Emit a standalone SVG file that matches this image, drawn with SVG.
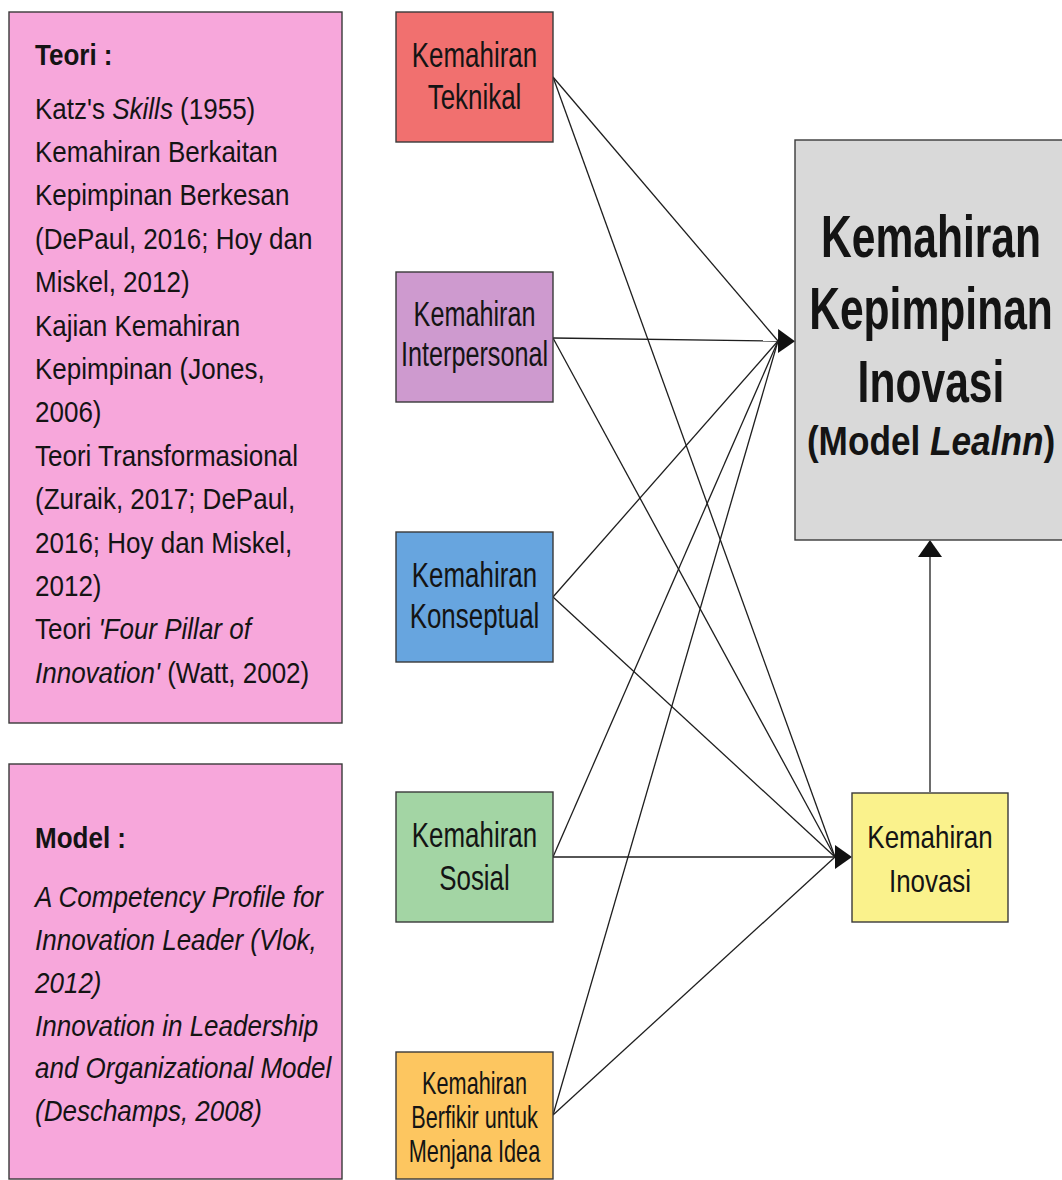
<svg xmlns="http://www.w3.org/2000/svg" width="1062" height="1180" viewBox="0 0 1062 1180">
<defs>
<style>
.box{stroke:#3a3a3a;stroke-width:1.4}
.t{font-family:"Liberation Sans",Arial,sans-serif;fill:#141414}
.lt{font-size:30px}
.b{font-weight:bold}
.i{font-style:italic}
.c{text-anchor:middle}
.ln{stroke:#1e1e1e;stroke-width:1.3;fill:none}
</style>
<marker id="ah" viewBox="0 0 17 24" refX="0" refY="12" markerWidth="17" markerHeight="24" markerUnits="userSpaceOnUse" orient="auto">
<path d="M0,0 L17,12 L0,24 z" fill="#111"/>
</marker>
</defs>
<rect width="1062" height="1180" fill="#ffffff"/>

<g id="teori">
<rect class="box" x="9" y="12" width="333" height="711" fill="#F7A7DB"/>
<g transform="translate(35 0) scale(0.867 1)">
<text class="t lt b" x="0" y="65">Teori :</text>
<text class="t lt" x="0" y="118.6">Katz's <tspan class="i">Skills</tspan> (1955)</text>
<text class="t lt" x="0" y="162">Kemahiran Berkaitan</text>
<text class="t lt" x="0" y="205.4">Kepimpinan Berkesan</text>
<text class="t lt" x="0" y="248.8">(DePaul, 2016; Hoy dan</text>
<text class="t lt" x="0" y="292.2">Miskel, 2012)</text>
<text class="t lt" x="0" y="335.6">Kajian Kemahiran</text>
<text class="t lt" x="0" y="379">Kepimpinan (Jones,</text>
<text class="t lt" x="0" y="422.4">2006)</text>
<text class="t lt" x="0" y="465.8">Teori Transformasional</text>
<text class="t lt" x="0" y="509.2">(Zuraik, 2017; DePaul,</text>
<text class="t lt" x="0" y="552.6">2016; Hoy dan Miskel,</text>
<text class="t lt" x="0" y="596">2012)</text>
<text class="t lt" x="0" y="639.4">Teori <tspan class="i">'Four Pillar of</tspan></text>
<text class="t lt" x="0" y="682.8"><tspan class="i">Innovation'</tspan> (Watt, 2002)</text>
</g>
</g>

<g id="model">
<rect class="box" x="9" y="764" width="333" height="415" fill="#F7A7DB"/>
<g transform="translate(35 0) scale(0.867 1)">
<text class="t lt b" x="0" y="848">Model :</text>
<text class="t lt i" x="0" y="907">A Competency Profile for</text>
<text class="t lt i" x="0" y="950">Innovation Leader (Vlok,</text>
<text class="t lt i" x="0" y="993">2012)</text>
<text class="t lt i" x="0" y="1036">Innovation in Leadership</text>
<text class="t lt i" x="0" y="1078">and Organizational Model</text>
<text class="t lt i" x="0" y="1121">(Deschamps, 2008)</text>
</g>
</g>

<g id="connectors">
<line class="ln" x1="553" y1="77" x2="778" y2="341"/>
<line class="ln" x1="553" y1="77" x2="835" y2="857"/>
<line class="ln" x1="553" y1="338" x2="778" y2="341" marker-end="url(#ah)"/>
<line class="ln" x1="553" y1="338" x2="835" y2="857"/>
<line class="ln" x1="553" y1="597" x2="778" y2="341"/>
<line class="ln" x1="553" y1="597" x2="835" y2="857"/>
<line class="ln" x1="553" y1="857" x2="778" y2="341"/>
<line class="ln" x1="553" y1="857" x2="835" y2="857" marker-end="url(#ah)"/>
<line class="ln" x1="553" y1="1115" x2="778" y2="341"/>
<line class="ln" x1="553" y1="1115" x2="835" y2="857"/>
<line class="ln" x1="930" y1="792" x2="930" y2="557" marker-end="url(#ah)"/>
</g>

<g id="teknikal">
<rect class="box" x="396" y="12" width="157" height="130" fill="#F1706F"/>
<g transform="translate(474.5 0) scale(0.72 1)">
<text class="t c" x="0" y="67" font-size="36">Kemahiran</text>
<text class="t c" x="0" y="109" font-size="36">Teknikal</text>
</g>
</g>

<g id="interpersonal">
<rect class="box" x="396" y="272" width="157" height="130" fill="#CE9ACF"/>
<g transform="translate(474.5 0) scale(0.70 1)">
<text class="t c" x="0" y="326" font-size="36">Kemahiran</text>
<text class="t c" x="0" y="366" font-size="36">Interpersonal</text>
</g>
</g>

<g id="konseptual">
<rect class="box" x="396" y="532" width="157" height="130" fill="#67A5DF"/>
<g transform="translate(474.5 0) scale(0.72 1)">
<text class="t c" x="0" y="587" font-size="36">Kemahiran</text>
<text class="t c" x="0" y="628" font-size="36">Konseptual</text>
</g>
</g>

<g id="sosial">
<rect class="box" x="396" y="792" width="157" height="130" fill="#A3D5A4"/>
<g transform="translate(474.5 0) scale(0.72 1)">
<text class="t c" x="0" y="847" font-size="36">Kemahiran</text>
<text class="t c" x="0" y="890" font-size="36">Sosial</text>
</g>
</g>

<g id="berfikir">
<rect class="box" x="396" y="1052" width="157" height="127" fill="#FDC660"/>
<g transform="translate(474.5 0) scale(0.70 1)">
<text class="t c" x="0" y="1094" font-size="31">Kemahiran</text>
<text class="t c" x="0" y="1128" font-size="31">Berfikir untuk</text>
<text class="t c" x="0" y="1162" font-size="31">Menjana Idea</text>
</g>
</g>

<g id="inovasi">
<rect class="box" x="852" y="793" width="156" height="129" fill="#FAF28C"/>
<g transform="translate(930 0) scale(0.81 1)">
<text class="t c" x="0" y="848" font-size="32">Kemahiran</text>
<text class="t c" x="0" y="892" font-size="32">Inovasi</text>
</g>
</g>

<g id="kepimpinan-inovasi">
<rect class="box" x="795" y="140" width="280" height="400" fill="#D9D9D9"/>
<g transform="translate(931 0) scale(0.71 1)">
<text class="t c b" x="0" y="257" font-size="60">Kemahiran</text>
<text class="t c b" x="0" y="329" font-size="60">Kepimpinan</text>
<text class="t c b" x="0" y="402" font-size="60">Inovasi</text>
</g>
<g transform="translate(931 0) scale(0.88 1)">
<text class="t c b" x="0" y="455" font-size="40">(Model <tspan class="i">Lealnn</tspan>)</text>
</g>
</g>
</svg>
